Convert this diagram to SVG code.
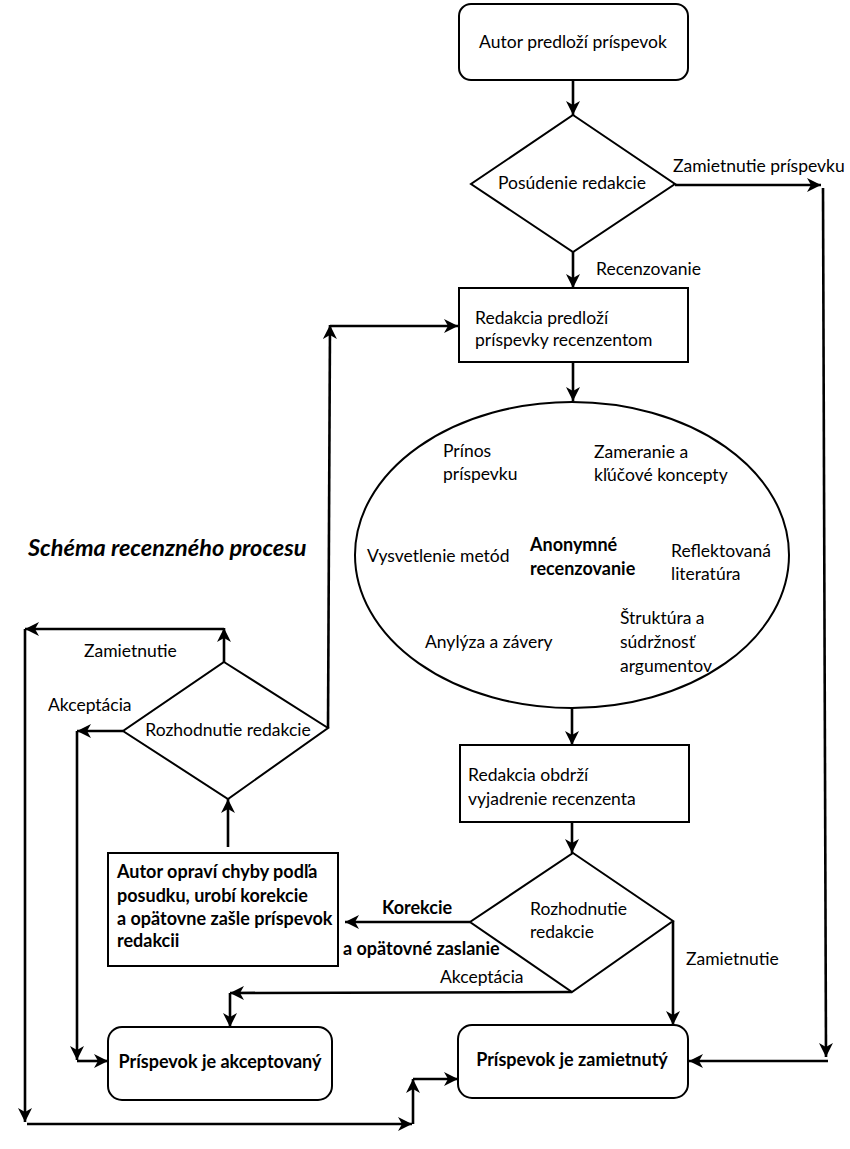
<svg xmlns="http://www.w3.org/2000/svg" width="850" height="1149" viewBox="0 0 850 1149">
<style>
.shape{fill:#fff;stroke:#000;stroke-width:2}
.t{font-family:Lato,"Liberation Sans",sans-serif;font-size:17.5px;fill:#000}
.b{font-weight:bold;font-size:18px}
.c{text-anchor:middle}
.ln{fill:none;stroke:#000;stroke-width:2.6}
.a{marker-end:url(#ah)}
</style>
<defs>
<marker id="ah" markerUnits="userSpaceOnUse" markerWidth="16" markerHeight="14" refX="14" refY="7" orient="auto">
<path d="M0,0 L14,7 L0,14 L4,7 z" fill="#000"/>
</marker>
</defs>
<rect width="850" height="1149" fill="#fff"/>
<text class="t b" x="28" y="556" style="font-size:23.5px;font-style:italic">Schéma recenzného procesu</text>

<g id="connectors">
<path class="ln a" d="M573,80 L573,115"/>
<path class="ln a" d="M675,185 L821,185"/>
<path class="ln a" d="M573,252 L573,288"/>
<path class="ln a" d="M823,188 L826,1057"/>
<path class="ln a" d="M828,1061 L689,1061"/>
<path class="ln a" d="M573,363 L573,401"/>
<path class="ln a" d="M572,708 L572,745"/>
<path class="ln a" d="M572,822 L572,853"/>
<path class="ln a" d="M673,921 L673,1025"/>
<path class="ln a" d="M470,922 L345,922"/>
<path class="ln a" d="M572,992 L230,993"/>
<path class="ln a" d="M230,993 L230,1027"/>
<path class="ln a" d="M228,847 L228,799"/>
<path class="ln a" d="M224,662 L224,628"/>
<path class="ln a" d="M224,629 L25,629"/>
<path class="ln a" d="M25,629 L25,1122"/>
<path class="ln a" d="M27,1124 L412,1124"/>
<path class="ln a" d="M413,1124 L413,1079"/>
<path class="ln a" d="M413,1079 L458,1079"/>
<path class="ln a" d="M123,731 L77,731"/>
<path class="ln a" d="M77,731 L77,1060"/>
<path class="ln a" d="M77,1061 L108,1061"/>
<path class="ln a" d="M328,728 L330,325"/>
<path class="ln a" d="M330,326 L458,326"/>
</g>

<g id="n-start">
<rect class="shape" x="459" y="4" width="229" height="76" rx="12"/>
<text class="t c" x="573" y="48">Autor predloží príspevok</text>
</g>
<g id="n-posudenie">
<polygon class="shape" points="573,115 675,184 573,252 471,184"/>
<text class="t c" x="572" y="189">Posúdenie redakcie</text>
</g>
<text class="t" x="673" y="172">Zamietnutie príspevku</text>
<text class="t" x="596" y="275">Recenzovanie</text>
<g id="n-predlozi">
<rect class="shape" x="459" y="288" width="229" height="74"/>
<text class="t" x="475" y="324">Redakcia predloží</text>
<text class="t" x="475" y="346">príspevky recenzentom</text>
</g>
<g id="n-recenzovanie">
<ellipse class="shape" cx="572" cy="555" rx="217" ry="153"/>
<text class="t" x="443" y="457">Prínos</text>
<text class="t" x="443" y="480">príspevku</text>
<text class="t" x="594" y="458">Zameranie a</text>
<text class="t" x="594" y="481">kľúčové koncepty</text>
<text class="t" x="367" y="562">Vysvetlenie metód</text>
<text class="t b" x="530" y="551">Anonymné</text>
<text class="t b" x="530" y="575">recenzovanie</text>
<text class="t" x="671" y="557">Reflektovaná</text>
<text class="t" x="671" y="580">literatúra</text>
<text class="t" x="620" y="624">Štruktúra a</text>
<text class="t" x="620" y="648">súdržnosť</text>
<text class="t" x="620" y="672">argumentov</text>
<text class="t" x="425" y="648">Anylýza a závery</text>
</g>
<g id="n-obdrzi">
<rect class="shape" x="460" y="745" width="229" height="77"/>
<text class="t" x="468" y="781">Redakcia obdrží</text>
<text class="t" x="468" y="805">vyjadrenie recenzenta</text>
</g>
<g id="n-rozhodnutie2">
<polygon class="shape" points="573,853 673,921 572,992 470,922"/>
<text class="t" x="530" y="915">Rozhodnutie</text>
<text class="t" x="530" y="938">redakcie</text>
</g>
<text class="t b" x="382" y="914">Korekcie</text>
<text class="t b" x="343" y="955">a opätovné zaslanie</text>
<text class="t" x="440" y="983">Akceptácia</text>
<text class="t" x="686" y="965">Zamietnutie</text>
<g id="n-oprava">
<rect class="shape" x="108" y="853" width="230" height="113"/>
<text class="t b" x="117" y="878">Autor opraví chyby podľa</text>
<text class="t b" x="117" y="902">posudku, urobí korekcie</text>
<text class="t b" x="117" y="925">a opätovne zašle príspevok</text>
<text class="t b" x="117" y="947">redakcii</text>
</g>
<g id="n-rozhodnutie1">
<polygon class="shape" points="224,662 328,728 228,799 123,731"/>
<text class="t c" x="228" y="736">Rozhodnutie redakcie</text>
</g>
<text class="t" x="84" y="657">Zamietnutie</text>
<text class="t" x="48" y="711">Akceptácia</text>
<g id="n-akceptovany">
<rect class="shape" x="108" y="1027" width="224" height="73" rx="14"/>
<text class="t b c" x="220" y="1068">Príspevok je akceptovaný</text>
</g>
<g id="n-zamietnuty">
<rect class="shape" x="458" y="1025" width="230" height="73" rx="14"/>
<text class="t b c" x="572" y="1066">Príspevok je zamietnutý</text>
</g>
</svg>
